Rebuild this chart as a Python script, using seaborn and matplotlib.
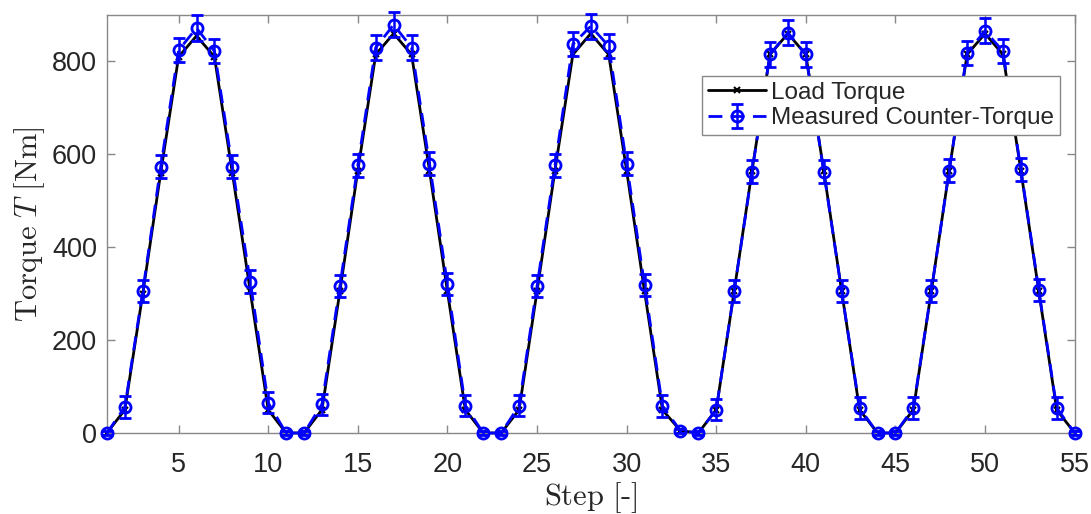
import numpy as np
import pandas as pd
import matplotlib
matplotlib.use("Agg")
import matplotlib.pyplot as plt
import seaborn as sns

# ---- data ----
steps = list(range(1, 56))
load_torque = [0, 50, 300, 560, 810, 855, 810, 560, 305, 50, 0,
               0, 50, 305, 565, 815, 860, 815, 565, 305, 50, 0,
               0, 50, 305, 565, 815, 860, 815, 565, 305, 50, 5,
               0, 50, 305, 565, 815, 860, 815, 565, 305, 50, 0,
               0, 50, 305, 565, 815, 860, 815, 565, 305, 50, 0]
measured = [0, 56, 305, 573, 824, 872, 822, 573, 326, 65, 0,
            0, 62, 317, 576, 830, 879, 830, 580, 321, 59, 0,
            0, 59, 316, 576, 837, 876, 833, 580, 319, 58, 5,
            0, 50, 305, 563, 815, 862, 815, 563, 305, 54, 0,
            0, 54, 305, 565, 819, 866, 822, 568, 308, 54, 0]
measured_err = [4, 23, 24, 25, 26, 27, 26, 25, 24, 23, 4,
                4, 23, 24, 25, 26, 27, 26, 25, 24, 23, 4,
                4, 23, 24, 25, 26, 27, 26, 25, 24, 23, 4,
                4, 23, 24, 25, 26, 27, 26, 25, 24, 23, 4,
                4, 23, 24, 25, 26, 27, 26, 25, 24, 23, 4]
x_ticks = [5, 10, 15, 20, 25, 30, 35, 40, 45, 50, 55]
y_ticks = [0, 200, 400, 600, 800]
labels = ["Load Torque", "Measured Counter-Torque"]

sns.set_theme(style="white")
plt.rcParams['font.family'] = ['Liberation Sans', 'DejaVu Sans']
plt.rcParams['mathtext.fontset'] = 'cm'

df = pd.DataFrame({"step": steps, "load": load_torque})

fig = plt.figure(figsize=(10.91, 5.14), dpi=100)
ax = fig.add_axes([0.098, 0.1576, 0.887, 0.8132])

sns.lineplot(data=df, x="step", y="load", ax=ax, color="black", linewidth=2,
             linestyle="-", dashes=False,
             marker="x", markersize=4, markeredgewidth=1.5, markeredgecolor="black",
             label=labels[0], clip_on=False, zorder=2)

ax.errorbar(steps, measured, yerr=measured_err, fmt="o", linestyle=(0, (5, 3)),
            color="blue", markerfacecolor="none", markeredgewidth=2,
            markersize=8, linewidth=2, elinewidth=1.8, capsize=4.5, capthick=1.8,
            label=labels[1], clip_on=False, zorder=3)

ax.set_xlim(1, 55)
ax.set_ylim(0, 900)
ax.set_xticks(x_ticks)
ax.set_yticks(y_ticks)
ax.tick_params(axis="both", direction="in", length=6, width=1, colors="#888888",
               labelcolor="#262626", labelsize=19.5, top=True, right=True,
               bottom=True, left=True)
ax.tick_params(axis="x", pad=14)
ax.tick_params(axis="y", pad=7)
for sp in ax.spines.values():
    sp.set_visible(True)
    sp.set_color("#888888")
    sp.set_linewidth(1)

ax.set_xlabel(r"$\mathrm{Step\ [\text{-}]}$", fontsize=22, color="#262626", labelpad=1)
ax.set_ylabel(r"$\mathrm{Torque}\ T\ \mathrm{[Nm]}$", fontsize=22, color="#262626", labelpad=4)

leg = ax.legend(loc="upper right", bbox_to_anchor=(0.985, 0.855), fontsize=17.5,
                frameon=True, fancybox=False, edgecolor="#888888",
                framealpha=1, handlelength=2.4, handletextpad=0.2,
                borderpad=0.25, labelspacing=0.15, borderaxespad=0)
leg.get_frame().set_linewidth(1)

fig.savefig("out.png", dpi=100)
